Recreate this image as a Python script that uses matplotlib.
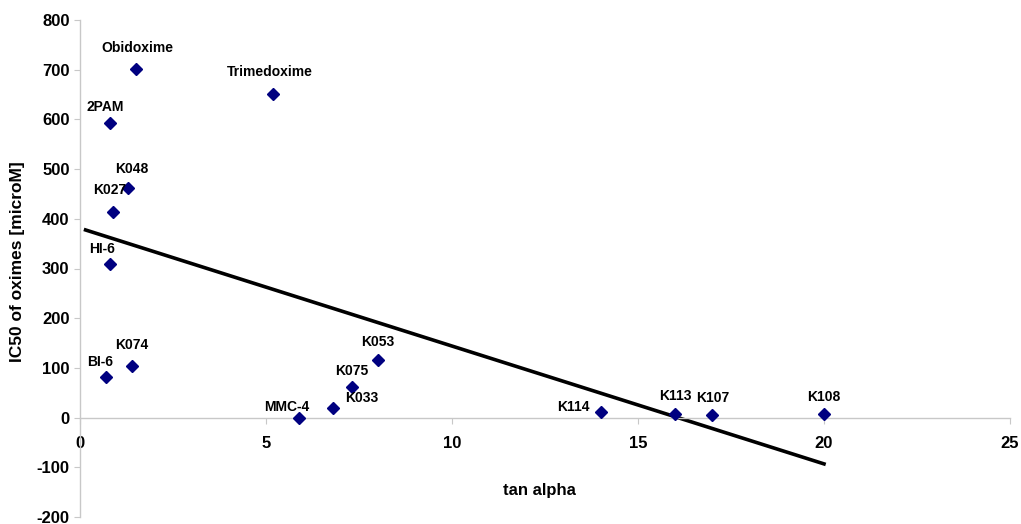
import numpy as np
import matplotlib
matplotlib.use('Agg')
import matplotlib.pyplot as plt

plt.rcParams['font.family'] = ['Liberation Sans', 'DejaVu Sans']
plt.rcParams['font.weight'] = 'bold'
plt.rcParams['axes.unicode_minus'] = False

# Oximes: tan alpha vs IC50 (microM)
names = ['Obidoxime', 'Trimedoxime', '2PAM', 'K048', 'K027', 'HI-6', 'BI-6', 'K074',
         'MMC-4', 'K033', 'K075', 'K053', 'K114', 'K113', 'K107', 'K108']
tan_alpha = [1.5, 5.2, 0.8, 1.3, 0.9, 0.8, 0.7, 1.4,
             5.9, 6.8, 7.3, 8.0, 14.0, 16.0, 17.0, 20.0]
ic50 = [702, 652, 592, 461, 413, 310, 82, 103,
        0, 20, 62, 115, 12, 8, 6, 8]

# label offsets in pixels and alignment
label_pos = {
    'Obidoxime': (2, 21, 'center'), 'Trimedoxime': (-4, 22, 'center'),
    '2PAM': (-5, 16, 'center'), 'K048': (3, 19, 'center'),
    'K027': (-4, 22, 'center'), 'HI-6': (-8, 15, 'center'),
    'BI-6': (-6, 15, 'center'), 'K074': (0, 21, 'center'),
    'MMC-4': (10, 11, 'right'), 'K033': (12, 10, 'left'),
    'K075': (0, 16, 'center'), 'K053': (0, 18, 'center'),
    'K114': (-11, 5, 'right'), 'K113': (0, 18, 'center'),
    'K107': (0, 17, 'center'), 'K108': (0, 17, 'center'),
}

fig = plt.figure(figsize=(10.21, 5.24), dpi=100)
ax = fig.add_axes([80 / 1021, 7 / 524, 930 / 1021, 497 / 524])

ax.plot(tan_alpha, ic50, linestyle='none', marker='D', markersize=6.5,
        color='#000080', zorder=3)

# linear trendline
k, b = np.polyfit(tan_alpha, ic50, 1)
xs = np.array([0.15, max(tan_alpha)])
ax.plot(xs, k * xs + b, color='black', linewidth=2.6, zorder=2)

for n, x, y in zip(names, tan_alpha, ic50):
    dx, dy, ha = label_pos[n]
    ax.annotate(n, (x, y), xytext=(dx, dy), textcoords='offset pixels',
                ha=ha, va='center', fontsize=10, fontweight='bold')

ax.set_xlim(0, 25)
ax.set_ylim(-200, 800)
ax.set_xticks(range(0, 26, 5))
ax.set_yticks(range(-200, 801, 100))

for s in ['top', 'right']:
    ax.spines[s].set_visible(False)
ax.spines['bottom'].set_position(('data', 0))
for s in ['left', 'bottom']:
    ax.spines[s].set_color('#c8c8c8')
    ax.spines[s].set_linewidth(1.0)
ax.tick_params(axis='both', colors='#c8c8c8', labelcolor='black',
               labelsize=12, length=4)
ax.tick_params(axis='x', pad=9)
for lab in ax.get_xticklabels() + ax.get_yticklabels():
    lab.set_fontweight('bold')

fig.text(539 / 1021, 1 - 490 / 524, 'tan alpha', ha='center', va='center',
         fontsize=12, fontweight='bold')
fig.text(18 / 1021, 1 - 262 / 524, 'IC50 of oximes [microM]', ha='center',
         va='center', rotation=90, fontsize=12.5, fontweight='bold')

fig.savefig('out.png', dpi=100)
